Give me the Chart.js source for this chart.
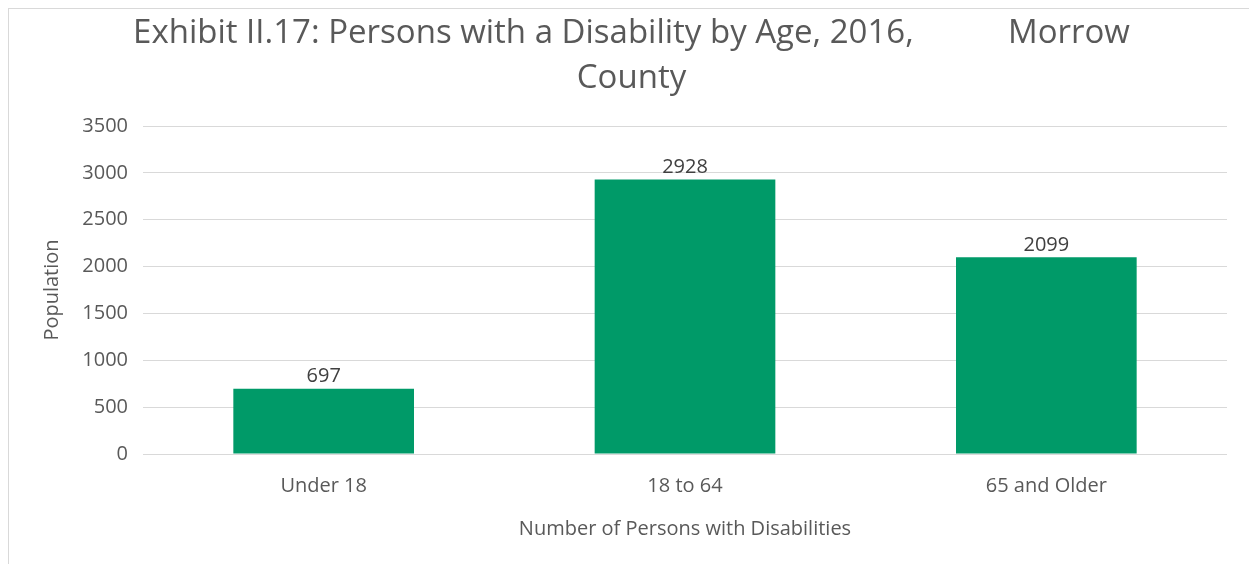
<!DOCTYPE html>
<html>
<head>
<meta charset="utf-8">
<script src="https://cdn.jsdelivr.net/npm/chart.js@4.4.1/dist/chart.umd.min.js"></script>
<style>
    html, body { margin: 0; padding: 0; background: #fff; overflow: hidden; }
    #wrap { position: relative; width: 1249px; height: 564px; }
    #frame { position: absolute; left: 8px; top: 8px; width: 1300px; height: 600px; border: 1px solid #d9d9d9; box-sizing: border-box; }
    canvas { position: absolute; left: 0; top: 0; }
</style>
</head>
<body>
<div id="wrap">
    <div id="frame"></div>
    <canvas id="chart" width="1249" height="564"></canvas>
</div>
<script>
// data
const categories = ['Under 18', '18 to 64', '65 and Older'];
const population = [697, 2928, 2099];
const yTicks = [0, 500, 1000, 1500, 2000, 2500, 3000, 3500];

const titleLines = ['Exhibit II.17: Persons with a Disability by Age, 2016,           Morrow', 'County'];
const xTitle = 'Number of Persons with Disabilities';
const yTitle = 'Population';

const textGray = '#595959';
const fontFamily = '"Open Sans", sans-serif';

// value labels above the bars
const barLabels = {
    id: 'barLabels',
    afterDatasetsDraw(chart) {
        const ctx = chart.ctx;
        const meta = chart.getDatasetMeta(0);
        ctx.save();
        ctx.font = '20px ' + fontFamily;
        ctx.fillStyle = '#404040';
        ctx.textAlign = 'center';
        ctx.textBaseline = 'bottom';
        meta.data.forEach((bar, i) => {
            ctx.fillText(String(population[i]), bar.x, bar.y - 2);
        });
        ctx.restore();
    }
};

const ctx = document.getElementById('chart').getContext('2d');
new Chart(ctx, {
    type: 'bar',
    data: {
        labels: categories,
        datasets: [{
            label: yTitle,
            data: population,
            backgroundColor: '#009a68',
            borderWidth: 0,
            categoryPercentage: 1,
            barPercentage: 0.5
        }]
    },
    options: {
        responsive: false,
        animation: false,
        layout: {
            padding: { left: 36, right: 22, top: 0, bottom: 20 }
        },
        plugins: {
            legend: { display: false },
            tooltip: { enabled: false },
            title: {
                display: true,
                text: titleLines,
                color: textGray,
                font: { family: fontFamily, size: 33, weight: 'normal', lineHeight: 1.364 },
                padding: { top: 11, bottom: 25 }
            }
        },
        scales: {
            x: {
                grid: { display: false, drawTicks: false },
                border: { display: false },
                ticks: {
                    color: textGray,
                    font: { family: fontFamily, size: 20 },
                    padding: 20
                },
                title: {
                    display: true,
                    text: xTitle,
                    color: textGray,
                    font: { family: fontFamily, size: 20 },
                    padding: { top: 4, bottom: 3 }
                },
                afterFit(scale) { scale.height = 90; }
            },
            y: {
                min: yTicks[0],
                max: yTicks[yTicks.length - 1],
                grid: { color: '#d9d9d9', lineWidth: 1, drawTicks: false },
                border: { display: false },
                afterBuildTicks(scale) {
                    scale.ticks = yTicks.map(v => ({ value: v }));
                },
                ticks: {
                    color: textGray,
                    font: { family: fontFamily, size: 20 },
                    padding: 15,
                    callback: (v) => String(v)
                },
                title: {
                    display: true,
                    text: yTitle,
                    color: textGray,
                    font: { family: fontFamily, size: 20 },
                    padding: { top: 4, bottom: 4 }
                },
                afterFit(scale) { scale.width = 107; }
            }
        }
    },
    plugins: [barLabels]
});
</script>
</body>
</html>
